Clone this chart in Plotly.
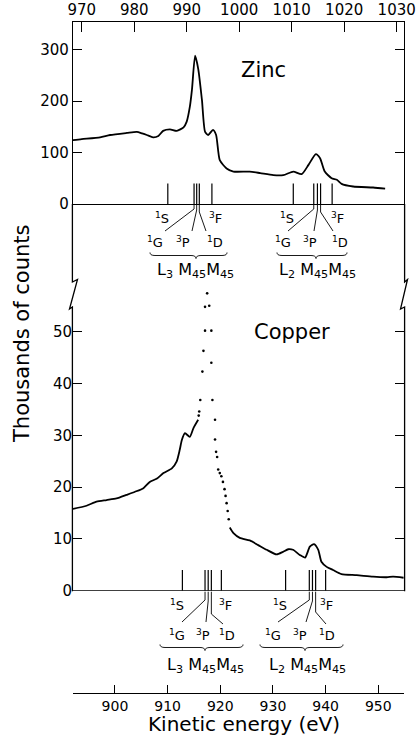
import plotly.graph_objects as go

# ---------------- data ----------------
zinc_energy = [968.3, 970.0, 973.5, 975.4, 978.6, 980.5, 981.5, 982.4, 983.6, 984.6, 985.5, 986.8,
               988.1, 989.4, 990.0, 990.6, 991.0, 991.6, 992.2, 992.9, 993.5, 994.1, 995.0, 995.6,
               996.3, 997.6, 998.9, 1002.0, 1004.0, 1006.5, 1008.4, 1010.3, 1011.9, 1013.2, 1014.6,
               1015.4, 1016.3, 1017.6, 1018.6, 1019.5, 1021.7, 1025.5, 1027.8]
zinc_counts = [124, 126, 129.5, 134, 138, 140, 137, 134, 129.5, 132, 142, 145,
               142, 149, 160, 189, 222, 288, 262, 202, 140, 134, 144, 134,
               85, 69, 63, 63, 60, 56, 56, 63, 58, 76, 97,
               89, 63, 50, 47, 39, 34, 32, 30]

copper_energy_low = [892.0, 894.6, 896.5, 898.4, 900.3, 902.2, 903.8, 905.4, 906.6, 907.9, 909.2,
                     910.8, 911.7, 912.3, 912.7, 913.3, 914.2, 914.9, 915.8]
copper_counts_low = [15.8, 16.4, 17.2, 17.5, 17.8, 18.5, 19.1, 19.8, 21.0, 21.6, 22.7,
                     23.6, 24.9, 27.2, 29.1, 30.4, 29.7, 31.4, 33.0]

copper_energy_dots = [915.9, 916.0, 916.2, 916.6, 916.8, 917.1, 917.1, 917.5, 917.9, 918.3, 918.3,
                      918.5, 919.0, 919.0, 919.2, 919.4, 919.6, 919.9, 920.2, 920.5, 920.8, 921.0,
                      921.2, 921.4, 921.6]
copper_counts_dots = [33.8, 34.6, 36.8, 42.3, 46.3, 50.2, 54.8, 57.4, 55.0, 50.2, 44.0,
                      36.8, 33.0, 29.2, 26.8, 25.8, 23.4, 22.7, 22.1, 21.0, 19.6, 18.3,
                      16.9, 15.4, 13.8]

copper_energy_high = [921.8, 922.5, 923.7, 925.6, 927.2, 928.8, 930.7, 931.9, 932.9, 933.8, 935.1,
                      936.1, 937.0, 937.8, 938.6, 939.2, 940.2, 941.4, 943.0, 945.9, 949.0, 951.6,
                      952.8, 954.8]
copper_counts_high = [12.2, 11.1, 10.2, 9.7, 8.8, 7.9, 7.0, 7.5, 8.0, 7.9, 6.9,
                      6.4, 8.5, 9.0, 7.9, 5.6, 4.6, 4.0, 3.2, 3.0, 2.7, 2.6,
                      2.7, 2.5]

terms = ["1S", "1G", "3P", "1D", "3F"]
zinc_L3_lines = [986.4, 991.4, 991.9, 992.4, 994.8]
zinc_L2_lines = [1010.3, 1014.2, 1014.9, 1015.5, 1017.7]
copper_L3_lines = [912.8, 917.1, 917.7, 918.3, 920.2]
copper_L2_lines = [932.4, 936.9, 937.5, 938.1, 940.0]
zinc_line_height = 40
copper_line_height = 4

zinc_xticks = [970, 980, 990, 1000, 1010, 1020, 1030]
zinc_yticks = [0, 100, 200, 300]
copper_xticks = [900, 910, 920, 930, 940, 950]
copper_yticks = [0, 10, 20, 30, 40, 50]

# ---------------- geometry (window pixel coords; body margin removed) ----------------
W, H = 418, 744
PX_L, PX_R, PY_T, PY_B = 73, 404, 22, 693       # plot area in window pixels
ML, MR = PX_L, W - PX_R
MT, MB = PY_T, H - PY_B
PW = PX_R - PX_L
PH = PY_B - PY_T

ZINC_XR = [968.34, 1031.39]
CU_XR = [892.03, 954.88]
ZINC_YR = [0, 353.4]
CU_YR = [0, 74.65]


def xp(px):
    return (px - PX_L) / PW


def yp(py):
    return (PY_B - py) / PH


def e2px(E, rng):
    return PX_L + (E - rng[0]) / (rng[1] - rng[0]) * PW


FONT = "DejaVu Sans"
INK = "black"

fig = go.Figure()


def bar_xy(energies, h):
    xs, ys = [], []
    for e in energies:
        xs += [e, e, None]
        ys += [0, h, None]
    return xs, ys


# zinc spectrum
fig.add_trace(go.Scatter(x=zinc_energy, y=zinc_counts, mode="lines", xaxis="x2", yaxis="y2",
                         line=dict(color=INK, width=1.8, shape="spline", smoothing=0.6),
                         hoverinfo="skip", showlegend=False))
bx, by = bar_xy(zinc_L3_lines + zinc_L2_lines, zinc_line_height)
fig.add_trace(go.Scatter(x=bx, y=by, mode="lines", xaxis="x2", yaxis="y2",
                         line=dict(color=INK, width=1.2), showlegend=False, hoverinfo="skip"))

# copper spectrum
for ex, cy in [(copper_energy_low, copper_counts_low), (copper_energy_high, copper_counts_high)]:
    fig.add_trace(go.Scatter(x=ex, y=cy, mode="lines", xaxis="x", yaxis="y",
                             line=dict(color=INK, width=1.8, shape="spline", smoothing=0.6),
                             showlegend=False, hoverinfo="skip"))
fig.add_trace(go.Scatter(x=copper_energy_dots, y=copper_counts_dots, mode="markers",
                         xaxis="x", yaxis="y",
                         marker=dict(color=INK, size=2.6), showlegend=False, hoverinfo="skip"))
bx, by = bar_xy(copper_L3_lines + copper_L2_lines, copper_line_height)
fig.add_trace(go.Scatter(x=bx, y=by, mode="lines", xaxis="x", yaxis="y",
                         line=dict(color=INK, width=1.2), showlegend=False, hoverinfo="skip"))

axis_common = dict(showgrid=False, zeroline=False, showline=True, linecolor=INK, linewidth=1.3,
                   ticks="inside", tickcolor=INK, tickwidth=1.2, automargin=False,
                   tickfont=dict(family=FONT, size=15, color=INK))

cu_dom = [yp(590.7), yp(204)]
fig.update_layout(
    template="none",
    width=W, height=H, margin=dict(l=ML, r=MR, t=MT, b=MB, autoexpand=False),
    paper_bgcolor="white", plot_bgcolor="white", showlegend=False,
    xaxis=dict(axis_common, domain=[0, 1], anchor="free", position=0, range=CU_XR,
               tickvals=copper_xticks, ticklen=8, tickfont=dict(family=FONT, size=14, color=INK)),
    yaxis=dict(axis_common, domain=cu_dom, anchor="x", range=CU_YR, showline=False,
               tickvals=copper_yticks, ticklen=9),
    yaxis3=dict(axis_common, domain=cu_dom, anchor="x", overlaying="y", side="right",
                range=CU_YR, showline=False, showticklabels=False,
                tickvals=copper_yticks, ticklen=9),
    xaxis2=dict(axis_common, domain=[0, 1], anchor="y2", side="top", range=ZINC_XR,
                tickvals=zinc_xticks, ticklen=10, mirror=True),
    yaxis2=dict(axis_common, domain=[yp(204), 1], anchor="x2", range=ZINC_YR,
                tickvals=zinc_yticks, ticklen=9, mirror="ticks"),
)
# empty trace so that yaxis3 (right-hand copper ticks) is drawn
fig.add_trace(go.Scatter(x=[None], y=[None], xaxis="x", yaxis="y3", showlegend=False, hoverinfo="skip"))

shapes = []
line_style = dict(color=INK, width=1.3)
# copper zero line
shapes.append(dict(type="line", xref="paper", yref="y", x0=0, x1=1, y0=0, y1=0, line=line_style))


def path_px(points):
    s = ""
    for i, (a, b) in enumerate(points):
        s += ("M" if i == 0 else "L") + f"{xp(a):.5f},{yp(b):.5f} "
    return s.strip()


# side lines with axis breaks
shapes.append(dict(type="path", xref="paper", yref="paper", line=line_style,
                   path=path_px([(72.4, 204), (72.4, 282), (77.5, 279.5), (69.5, 309),
                                 (72.4, 307), (72.4, 591.3)])))
shapes.append(dict(type="path", xref="paper", yref="paper", line=line_style,
                   path=path_px([(404.6, 204), (404.6, 282), (407.5, 279.5), (400.5, 309),
                                 (404.6, 307), (404.6, 591.3)])))

thin = dict(color=INK, width=0.9)


def leaders(lines, rng, ybar, ends):
    for E, (ydrop, ex, ey) in zip(lines, ends):
        bxp = e2px(E, rng)
        shapes.append(dict(type="path", xref="paper", yref="paper", line=thin,
                           path=path_px([(bxp, ybar + 1), (bxp, ydrop), (ex, ey)])))


leaders(zinc_L3_lines[1:4], ZINC_XR, 204, [(209, 165, 231), (210, 192, 231), (212, 206, 231)])
leaders(zinc_L2_lines[1:4], ZINC_XR, 204, [(209, 288, 231), (210, 314, 231), (212, 333, 231)])
leaders(copper_L3_lines[1:4], CU_XR, 590.7, [(600, 182, 622), (601, 206, 622), (614, 223, 624)])
leaders(copper_L2_lines[1:4], CU_XR, 590.7, [(600, 278, 622), (601, 306, 622), (612, 326, 624)])


def brace(xl, xr, xc, ytop, h=6, r=5):
    ym = ytop + h / 2
    yb = ytop + h
    P = lambda a, b: f"{xp(a):.5f},{yp(b):.5f}"
    return (f"M{P(xl, ytop)} Q{P(xl, ym)} {P(xl + r, ym)} L{P(xc - r, ym)} "
            f"Q{P(xc, ym)} {P(xc, yb)} Q{P(xc, ym)} {P(xc + r, ym)} "
            f"L{P(xr - r, ym)} Q{P(xr, ym)} {P(xr, ytop)}")


for xl, xr, xc, yt in [(150, 227, 196, 252.5), (277, 347, 316, 252.5),
                       (160, 243, 205, 644.5), (260, 343, 305, 644.5)]:
    shapes.append(dict(type="path", xref="paper", yref="paper", line=thin, path=brace(xl, xr, xc, yt)))

fig.update_layout(shapes=shapes)

annotations = []


def label(text, px, py, size=14, **kw):
    annotations.append(dict(text=text, x=xp(px), y=yp(py), xref="paper", yref="paper",
                            showarrow=False, xanchor="center", yanchor="middle",
                            font=dict(family=FONT, size=size, color=INK), **kw))


def term(t):
    return f"<sup>{t[0]}</sup>{t[1]}"


group_pos = {
    "zL3": dict(S=(161.7, 218), F=(215, 218), G=(155, 242), P=(183.3, 242), D=(215, 242), L=(195, 270), n="3"),
    "zL2": dict(S=(286.7, 218), F=(337.3, 218), G=(283.3, 242), P=(310, 242), D=(340, 242), L=(317.3, 270), n="2"),
    "cL3": dict(S=(176.7, 605), F=(225.7, 605), G=(176.7, 635), P=(203.3, 635), D=(226.7, 635), L=(205, 665), n="3"),
    "cL2": dict(S=(280, 605), F=(326.7, 605), G=(273.3, 635), P=(300, 635), D=(326.7, 635), L=(307, 665), n="2"),
}
for key, g in group_pos.items():
    for t in terms:
        label(term(t), *g[t[1]], size=13)
    label(f"L<sub>{g['n']}</sub> M<sub>45</sub>M<sub>45</sub>", *g["L"], size=16)

label("Zinc", 263, 70, size=21)
label("Copper", 292, 332, size=21)
label("Thousands of counts", 22, 334, size=21, textangle=-90)
label("Kinetic energy (eV)", 243.5, 724, size=20)

fig.update_layout(annotations=annotations)

fig.write_html("out.html", config={"displayModeBar": False},
               post_script="document.body.style.margin='0px';")
